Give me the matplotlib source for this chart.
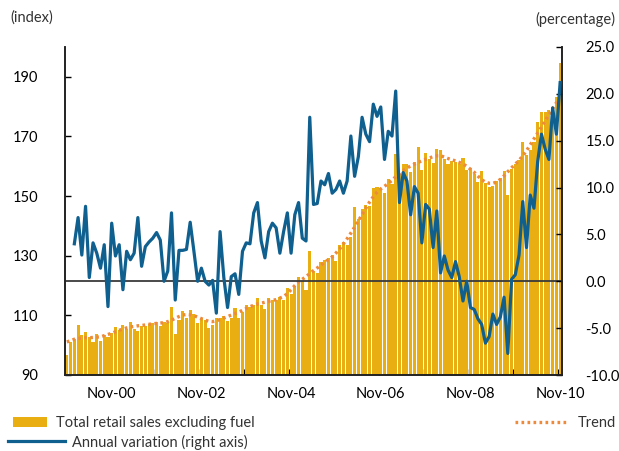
import matplotlib
matplotlib.use('Agg')
import matplotlib.pyplot as plt
import numpy as np

plt.rcParams['font.family'] = ['Lato', 'DejaVu Sans']
plt.rcParams['font.size'] = 10.5
plt.rcParams['text.color'] = '#333333'
plt.rcParams['axes.unicode_minus'] = False

# ---------- DATA (monthly, Nov-99 .. Nov-10) ----------
sales = [
    96.6, 101.2, 102.1, 106.8, 103.5, 104.4, 102.9, 101.2, 103.8, 101.5, 103.5, 102.6,
    104.0, 106.2, 105.1, 106.7, 105.4, 107.7, 105.4, 104.9, 106.3, 106.5, 107.2, 107.6,
    107.8, 106.3, 107.7, 107.4, 112.8, 103.8, 108.6, 111.4, 109.0, 111.7, 110.3, 107.5,
    109.2, 108.4, 105.9, 106.7, 109.2, 109.2, 109.8, 108.0, 109.2, 112.5, 109.2, 111.2,
    113.4, 112.9, 113.4, 115.9, 113.4, 112.3, 115.9, 115.1, 115.3, 116.2, 115.3, 119.2,
    117.1, 119.9, 122.9, 121.6, 118.4, 131.6, 125.0, 124.2, 127.9, 128.5, 129.2, 130.1,
    128.2, 133.7, 134.6, 133.7, 136.3, 146.3, 142.4, 145.7, 146.9, 146.6, 152.7, 152.9,
    152.4, 151.0, 155.8, 154.1, 164.1, 157.0, 160.9, 160.6, 158.2, 161.3, 166.4, 158.8,
    164.4, 162.5, 161.0, 165.8, 165.3, 162.5, 160.8, 161.9, 161.6, 160.6, 162.7, 158.8,
    159.4, 157.3, 154.7, 158.3, 154.3, 153.0, 153.5, 154.9, 156.0, 158.3, 150.2, 159.1,
    160.6, 162.2, 168.0, 163.8, 165.3, 168.2, 174.7, 178.1, 178.1, 178.9, 180.0, 183.2,
    194.5,
]

trend = [
    101.1, 101.5, 102.0, 102.3, 102.4, 102.5, 102.5, 102.6, 102.7, 102.8, 103.2, 103.6,
    104.0, 104.5, 105.0, 105.4, 105.8, 106.1, 106.3, 106.5, 106.6, 106.8, 107.0, 107.2,
    107.3, 107.4, 107.6, 107.9, 108.4, 109.0, 109.6, 110.1, 110.3, 110.2, 109.9, 109.4,
    108.9, 108.4, 108.0, 107.9, 108.2, 108.6, 109.1, 109.6, 110.1, 110.6, 111.1, 111.7,
    112.3, 112.9, 113.4, 113.8, 114.1, 114.4, 114.7, 115.0, 115.3, 115.8, 116.3, 117.3,
    118.6, 120.0, 121.2, 122.1, 123.0, 124.0, 125.0, 125.9, 126.8, 127.8, 128.7, 129.6,
    130.9, 132.3, 134.0, 135.7, 137.6, 139.6, 141.7, 143.8, 145.9, 148.0, 149.8, 151.3,
    152.4, 153.3, 154.2, 155.3, 156.5, 157.4, 158.5, 159.4, 160.1, 160.7, 161.3, 161.8,
    162.3, 162.8, 163.2, 163.5, 163.5, 163.1, 162.6, 162.2, 161.8, 161.3, 160.8, 160.0,
    159.0, 158.0, 156.7, 155.5, 154.7, 154.3, 154.3, 154.7, 155.6, 156.8, 158.2, 159.5,
    160.7, 162.0, 163.5, 165.2, 167.2, 169.2, 171.2, 173.1, 175.2, 177.3, 179.4, 181.3,
    183.2,
]

# annual variation (%), starts Jan-00
variation = [
    4.0, 6.8, 2.8, 8.0, 0.4, 4.1, 3.0, 1.4, 3.9, -2.7,
    6.2, 2.7, 3.9, -0.9, 3.2, 2.3, 3.0, 6.8, 1.6, 3.7, 4.2, 4.6,
    5.2, 4.4, 0.0, 1.1, 7.3, -2.0, 3.3, 3.3, 3.4, 6.3, 3.2, 0.0,
    1.4, 0.0, -0.4, 0.1, -3.4, 5.3, 0.4, -2.8, 0.5, 0.8, -1.4, 3.2,
    4.1, 4.0, 7.3, 8.4, 4.3, 2.5, 5.3, 6.2, 5.7, 3.0, 5.3, 7.3,
    3.0, 7.1, 8.4, 4.6, 4.3, 17.5, 8.2, 8.3, 10.7, 10.3, 11.5, 9.4,
    9.8, 10.7, 9.4, 10.7, 15.5, 11.2, 13.3, 17.5, 15.7, 14.9, 18.9, 17.6,
    18.6, 13.0, 16.0, 15.5, 20.3, 8.4, 11.6, 10.7, 7.1, 10.1, 9.4, 4.1,
    8.2, 7.7, 3.6, 7.5, 0.9, 2.7, 1.2, 0.4, 2.1, 0.5, -2.1, 0.0,
    -2.8, -3.0, -4.0, -4.6, -6.6, -5.9, -3.5, -4.6, -3.8, -1.7, -7.7, 0.2,
    0.7, 2.8, 8.5, 3.6, 9.2, 7.8, 12.8, 15.7, 14.1, 13.0, 18.5, 15.7,
    21.2,
]
variation_start = 2

tick_labels = ['Nov-00', 'Nov-02', 'Nov-04', 'Nov-06', 'Nov-08', 'Nov-10']

# ---------- PLOT ----------
bar_col = '#E9AE12'
trend_col = '#EE8A3C'
line_col = '#0F5F8F'

x = np.arange(len(sales))
xv = np.arange(variation_start, variation_start + len(variation))

fig = plt.figure(figsize=(6.19, 4.51), dpi=100)
ax = fig.add_axes([65 / 619, 1 - 375 / 451, 497 / 619, 328 / 451])
ax2 = ax.twinx()

bars = ax.bar(x, sales, width=0.82, color=bar_col, zorder=2)
trend_line, = ax.plot(x, trend, color=trend_col, lw=2.4,
                      linestyle=(0, (0.8, 1.0)), zorder=3)
ax.set_ylim(90, 200)
ax.set_xlim(-0.5, len(sales) - 0.5)
ax.set_yticks([90, 110, 130, 150, 170, 190])

ax2.axhline(0, color='#3a3a3a', lw=1.3, zorder=1)
var_line, = ax2.plot(xv, variation, color=line_col, lw=2.3, zorder=4,
                     solid_joinstyle='round')
ax2.set_ylim(-10, 25)
ax2.set_yticks(np.arange(-10, 26, 5))
ax2.set_yticklabels([f'{v:.1f}' for v in np.arange(-10, 26, 5)])

# year ticks between categories, labels every two years
ax.set_xticks(np.arange(11.5, len(sales), 12))
ax.set_xticklabels([])
ax.set_xticks(np.arange(12, len(sales), 24), minor=True)
ax.set_xticklabels(tick_labels, minor=True)
ax.tick_params(axis='x', which='major', direction='in', length=4, width=1)
ax.tick_params(axis='x', which='minor', length=0, pad=9, labelsize=10.5)
ax.tick_params(axis='y', direction='in', length=4, width=1, pad=19)
ax2.tick_params(axis='y', direction='in', length=4, width=1, pad=17)

for a in (ax, ax2):
    a.spines['top'].set_visible(False)
    for s in ('left', 'right', 'bottom'):
        a.spines[s].set_color('#222222')
        a.spines[s].set_linewidth(1.2)

fig.text(10 / 619, 1 - 18 / 451, '(index)', ha='left', va='center', fontsize=10.5)
fig.text(615 / 619, 1 - 19 / 451, '(percentage)', ha='right', va='center', fontsize=10.5)

# legend
common = dict(frameon=False, borderpad=0, borderaxespad=0, fontsize=10.5,
              handleheight=0.7)
fig.legend([bars], ['Total retail sales excluding fuel'], loc='center left',
           bbox_to_anchor=(13 / 619, 1 - 423 / 451), handlelength=2.3,
           handletextpad=0.68, **common)
fig.legend([trend_line], ['Trend'], loc='center left',
           bbox_to_anchor=(515 / 619, 1 - 423 / 451), handlelength=3.6,
           handletextpad=0.68, **common)
fig.legend([var_line], ['Annual variation (right axis)'], loc='center left',
           bbox_to_anchor=(8 / 619, 1 - 442 / 451), handlelength=3.9,
           handletextpad=0.5, **common)

fig.savefig('out.png', dpi=100)
